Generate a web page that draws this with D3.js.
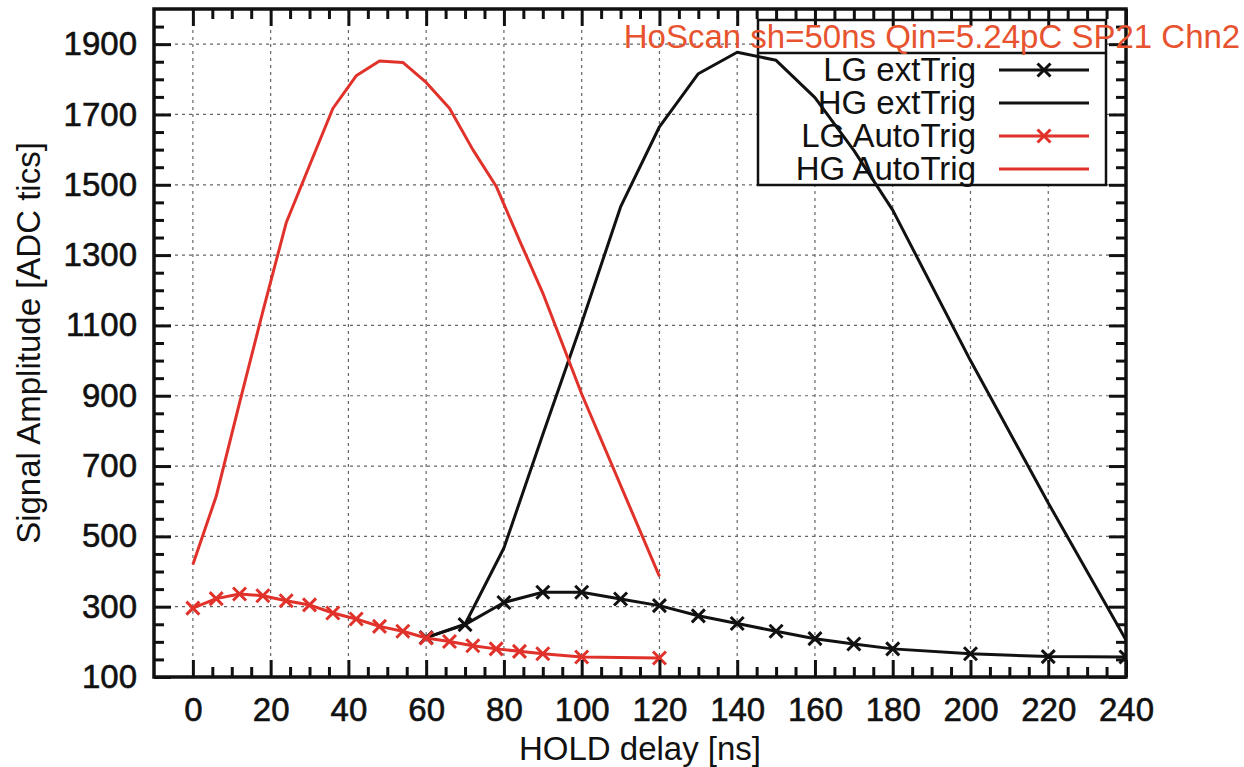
<!DOCTYPE html>
<html>
<head>
<meta charset="utf-8">
<script src="https://cdn.jsdelivr.net/npm/d3@7"></script>
<style>
  body { margin: 0; background: #fff; }
  text { font-family: "Liberation Sans", Helvetica, Arial, sans-serif; }
</style>
</head>
<body>
<div class="chart"></div>
<script>
// --- Data ---
const xAuto  = [0, 6, 12, 18, 24, 30, 36, 42, 48, 54, 60, 66, 72, 78, 84, 90, 100, 120];
const lgAuto = [296, 323, 336, 331, 317, 305, 282, 265, 244, 230, 211, 201, 189, 180, 173, 166, 157, 154];
const hgAuto = [420, 614, 880, 1140, 1392, 1555, 1717, 1810, 1852, 1848, 1791, 1718, 1600, 1496, 1342, 1192, 905, 386];

const xExt  = [60, 70, 80, 90, 100, 110, 120, 130, 140, 150, 160, 170, 180, 200, 220, 240];
const lgExt = [212, 249, 312, 341, 341, 322, 303, 274, 252, 230, 209, 194, 180, 166, 158, 157];
const hgExt = [212, 250, 467, 790, 1107, 1437, 1665, 1816, 1877, 1854, 1748, 1598, 1428, 1000, 595, 205];

const xTicks = [0, 20, 40, 60, 80, 100, 120, 140, 160, 180, 200, 220, 240];
const yTicks = [100, 300, 500, 700, 900, 1100, 1300, 1500, 1700, 1900];

const seriesNames = ["LG extTrig", "HG extTrig", "LG AutoTrig", "HG AutoTrig"];
const titleText = "HoScan sh=50ns Qin=5.24pC SP21 Chn2";

// --- Layout ---
const W = 1244, H = 767;
const pL = 154, pR = 1126, pT = 9, pB = 677;
const red = "#e0322a", black = "#111";
const fontSize = 33;

const x = d3.scaleLinear().domain([-10, 240]).range([pL, pR]);
const y = d3.scaleLinear().domain([100, 2000]).range([pB, pT]);

const svg = d3.select(".chart").append("svg")
    .attr("width", W).attr("height", H)
    .style("background", "#fff");

// plot-area clip for the curves and their markers
svg.append("clipPath").attr("id", "plotClip")
    .append("rect")
    .attr("x", pL).attr("y", pT)
    .attr("width", pR - pL).attr("height", pB - pT);

// minor tick values (every 5 in x, every 50 in y)
const xMinor = d3.range(5, 240, 5).filter(v => v % 20 !== 0);
const yMinor = d3.range(150, 2000, 50).filter(v => (v - 100) % 200 !== 0);

// --- Grid (dotted) ---
const grid = svg.append("g").attr("stroke", "#666").attr("stroke-width", 1.2)
    .attr("stroke-dasharray", "3,4");
grid.selectAll(".gx").data(xTicks.filter(v => v < 240)).join("line")
    .attr("x1", d => x(d)).attr("x2", d => x(d))
    .attr("y1", pT).attr("y2", pB);
grid.selectAll(".gy").data(yTicks.filter(v => v > 100)).join("line")
    .attr("x1", pL).attr("x2", pR)
    .attr("y1", d => y(d)).attr("y2", d => y(d));

// --- Legend box (opaque against the grid) ---
const key = { x0: 758, x1: 1106, y0: 20, sep: 53, y1: 185 };
svg.append("rect")
    .attr("x", key.x0).attr("y", key.y0)
    .attr("width", key.x1 - key.x0).attr("height", key.y1 - key.y0)
    .attr("fill", "#fff");

// --- Data series ---
const line = d3.line().x(d => x(d[0])).y(d => y(d[1]));
const cross = "M-6.5,-6.5L6.5,6.5M-6.5,6.5L6.5,-6.5";

const series = [
    { xs: xExt,  ys: lgExt,  color: black, marks: true },
    { xs: xExt,  ys: hgExt,  color: black, marks: false },
    { xs: xAuto, ys: lgAuto, color: red,   marks: true },
    { xs: xAuto, ys: hgAuto, color: red,   marks: false }
];

const plot = svg.append("g").attr("clip-path", "url(#plotClip)");
series.forEach(s => {
    const pts = s.xs.map((v, i) => [v, s.ys[i]]);
    plot.append("path")
        .datum(pts)
        .attr("d", line)
        .attr("fill", "none")
        .attr("stroke", s.color)
        .attr("stroke-width", 3)
        .attr("stroke-linejoin", "round");
    if (s.marks) {
        plot.append("g").selectAll("path").data(pts).join("path")
            .attr("transform", d => `translate(${x(d[0])},${y(d[1])})`)
            .attr("d", cross)
            .attr("stroke", s.color)
            .attr("stroke-width", 3)
            .attr("fill", "none");
    }
});

// --- Axes: inward ticks, mirrored on top and right ---
const axisStyle = g => {
    g.attr("font-family", null);
    g.select(".domain").remove();
    g.selectAll("line").attr("stroke", black).attr("stroke-width", 3);
    g.selectAll("text")
        .attr("fill", black)
        .attr("stroke", black).attr("stroke-width", 0.6)
        .style("font-size", fontSize + "px");
};

svg.append("g").attr("transform", `translate(0,${pB})`)
    .call(d3.axisBottom(x).tickValues(xTicks).tickSize(-17).tickPadding(21).tickFormat(d3.format("d")))
    .call(axisStyle);
svg.append("g").attr("transform", `translate(0,${pB})`)
    .call(d3.axisBottom(x).tickValues(xMinor).tickSize(-10).tickFormat(""))
    .call(axisStyle);
svg.append("g").attr("transform", `translate(0,${pT})`)
    .call(d3.axisTop(x).tickValues(xTicks).tickSize(-17).tickFormat(""))
    .call(axisStyle);
svg.append("g").attr("transform", `translate(0,${pT})`)
    .call(d3.axisTop(x).tickValues(xMinor).tickSize(-10).tickFormat(""))
    .call(axisStyle);

svg.append("g").attr("transform", `translate(${pL},0)`)
    .call(d3.axisLeft(y).tickValues(yTicks).tickSize(-17).tickPadding(17).tickFormat(d3.format("d")))
    .call(axisStyle);
svg.append("g").attr("transform", `translate(${pL},0)`)
    .call(d3.axisLeft(y).tickValues(yMinor).tickSize(-10).tickFormat(""))
    .call(axisStyle);
svg.append("g").attr("transform", `translate(${pR},0)`)
    .call(d3.axisRight(y).tickValues(yTicks).tickSize(-17).tickFormat(""))
    .call(axisStyle);
svg.append("g").attr("transform", `translate(${pR},0)`)
    .call(d3.axisRight(y).tickValues(yMinor).tickSize(-10).tickFormat(""))
    .call(axisStyle);

// frame
svg.append("rect")
    .attr("x", pL).attr("y", pT)
    .attr("width", pR - pL).attr("height", pB - pT)
    .attr("fill", "none").attr("stroke", black).attr("stroke-width", 3.5);

// --- Axis titles ---
svg.append("text")
    .attr("x", (pL + pR) / 2).attr("y", 760)
    .attr("text-anchor", "middle")
    .style("font-size", fontSize + "px")
    .attr("fill", black)
    .text("HOLD delay [ns]");

svg.append("text")
    .attr("transform", `translate(40,${(pT + pB) / 2}) rotate(-90)`)
    .attr("text-anchor", "middle")
    .style("font-size", fontSize + "px")
    .attr("fill", black)
    .text("Signal Amplitude [ADC tics]");

// --- Legend border and entries ---
const kg = svg.append("g");
kg.append("rect")
    .attr("x", key.x0).attr("y", key.y0)
    .attr("width", key.x1 - key.x0).attr("height", key.y1 - key.y0)
    .attr("fill", "none").attr("stroke", black).attr("stroke-width", 2.5);
kg.append("line")
    .attr("x1", key.x0).attr("x2", key.x1)
    .attr("y1", key.sep).attr("y2", key.sep)
    .attr("stroke", black).attr("stroke-width", 2.5);

const rowY = d3.scalePoint().domain(seriesNames).range([70, 169]);
seriesNames.forEach((name, i) => {
    const s = series[i];
    const ry = rowY(name);
    kg.append("text")
        .attr("x", 976).attr("y", ry + 11)
        .attr("text-anchor", "end")
        .style("font-size", fontSize + "px")
        .attr("fill", black)
        .text(name);
    kg.append("line")
        .attr("x1", 999).attr("x2", 1089)
        .attr("y1", ry).attr("y2", ry)
        .attr("stroke", s.color).attr("stroke-width", 3);
    if (s.marks) {
        kg.append("path")
            .attr("transform", `translate(1044,${ry})`)
            .attr("d", cross)
            .attr("stroke", s.color).attr("stroke-width", 3).attr("fill", "none");
    }
});

// key title, centred on the key box
svg.append("text")
    .attr("x", (key.x0 + key.x1) / 2).attr("y", 48)
    .attr("text-anchor", "middle")
    .style("font-size", fontSize + "px")
    .attr("fill", "#e8532f")
    .text(titleText);
</script>
</body>
</html>
